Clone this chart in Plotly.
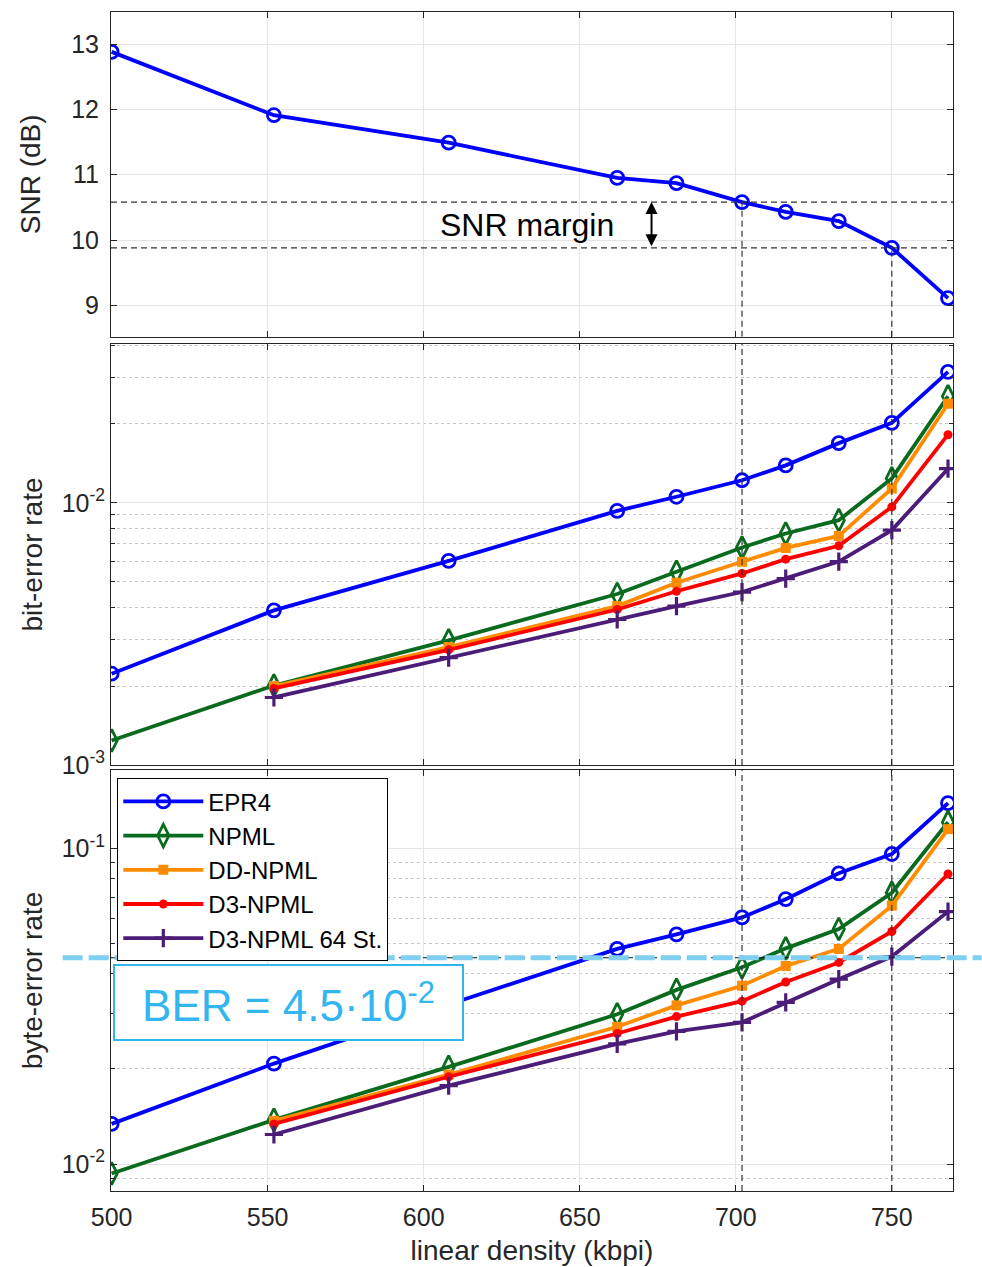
import plotly.graph_objects as go

# ---------------- data ----------------
density = [500, 552, 608, 662, 681, 702, 716, 733, 750, 768]          # kbpi
snr_db = [12.88, 11.91, 11.49, 10.95, 10.87, 10.58, 10.43, 10.29, 9.88, 9.11]

bit_epr4 = [2.23e-3, 3.89e-3, 6.01e-3, 9.32e-3, 1.055e-2, 1.22e-2, 1.39e-2, 1.69e-2, 2.02e-2, 3.16e-2]
bit_npml = [1.24e-3, 2.01e-3, 2.99e-3, 4.49e-3, 5.46e-3, 6.76e-3, 7.64e-3, 8.59e-3, 1.24e-2, 2.55e-2]
bit_dd = [2.00e-3, 2.82e-3, 4.04e-3, 4.96e-3, 5.96e-3, 6.73e-3, 7.48e-3, 1.135e-2, 2.39e-2]
bit_d3 = [1.96e-3, 2.75e-3, 3.92e-3, 4.60e-3, 5.38e-3, 6.10e-3, 6.86e-3, 9.65e-3, 1.82e-2]
bit_d3_64 = [1.81e-3, 2.57e-3, 3.59e-3, 4.04e-3, 4.57e-3, 5.14e-3, 5.97e-3, 7.87e-3, 1.35e-2]

byte_epr4 = [1.34e-2, 2.08e-2, 3.20e-2, 4.80e-2, 5.34e-2, 6.04e-2, 6.90e-2, 8.33e-2, 9.59e-2, 0.139]
byte_npml = [9.33e-3, 1.38e-2, 2.03e-2, 2.98e-2, 3.56e-2, 4.20e-2, 4.82e-2, 5.55e-2, 7.23e-2, 0.121]
byte_dd = [1.37e-2, 1.92e-2, 2.72e-2, 3.18e-2, 3.67e-2, 4.24e-2, 4.80e-2, 6.58e-2, 0.115]
byte_d3 = [1.34e-2, 1.89e-2, 2.59e-2, 2.93e-2, 3.28e-2, 3.77e-2, 4.35e-2, 5.45e-2, 8.29e-2]
byte_d3_64 = [1.24e-2, 1.77e-2, 2.40e-2, 2.63e-2, 2.81e-2, 3.25e-2, 3.85e-2, 4.54e-2, 6.30e-2]

ber_target = 4.5e-2
margin_idx = [5, 8]      # densities 702 and 750 kbpi

series_names = ["EPR4", "NPML", "DD-NPML", "D3-NPML", "D3-NPML 64 St."]
x_ticks = [500, 550, 600, 650, 700, 750]

# ---------------- styles ----------------
FONT = "Liberation Sans, Arial, Helvetica, sans-serif"
TXT = "#262626"
GRID = "#E4E4E4"
MINOR = "#C8C8C8"
styles = [
    dict(color="#0000FF", symbol="circle-open", size=13, mlw=2.8),
    dict(color="#0A6A1E", symbol="diamond-tall-open", size=16, mlw=2.8),
    dict(color="#FF8C00", symbol="square", size=10, mlw=0),
    dict(color="#FF0000", symbol="circle", size=9, mlw=0),
    dict(color="#4B1C78", symbol="cross-thin-open", size=13, mlw=3.2),
]

fig = go.Figure()


def add_series(xv, yv, k, xa, ya, show):
    st = styles[k]
    fig.add_trace(go.Scatter(
        x=xv, y=yv, mode="lines+markers", name=series_names[k],
        xaxis=xa, yaxis=ya, showlegend=show,
        line=dict(color=st["color"], width=3.8),
        marker=dict(symbol=st["symbol"], size=st["size"], color=st["color"],
                    line=dict(color=st["color"], width=st["mlw"])),
    ))


# top panel
add_series(density, snr_db, 0, "x", "y", False)
# middle and bottom panels
bits = [bit_epr4, bit_npml, bit_dd, bit_d3, bit_d3_64]
bytes_ = [byte_epr4, byte_npml, byte_dd, byte_d3, byte_d3_64]
for k in range(5):
    xv = density if k < 2 else density[1:]
    add_series(xv, bits[k], k, "x2", "y2", False)
for k in range(5):
    xv = density if k < 2 else density[1:]
    add_series(xv, bytes_[k], k, "x3", "y3", True)

# ---------------- axes ----------------
xr = [499.8, 769.6]
common_x = dict(range=xr, tickvals=x_ticks, showgrid=True, gridcolor=GRID, gridwidth=1,
                zeroline=False, showline=True, linecolor=TXT, linewidth=1, mirror="ticks",
                ticks="inside", ticklen=6, tickcolor=TXT, automargin=False,
                tickfont=dict(family=FONT, size=25, color=TXT))
common_y = dict(showgrid=True, gridcolor=GRID, gridwidth=1, zeroline=False, showline=True,
                linecolor=TXT, linewidth=1, mirror="ticks", ticks="inside", ticklen=6,
                tickcolor=TXT, tickfont=dict(family=FONT, size=25, color=TXT), automargin=False,
                title_font=dict(family=FONT, size=28, color=TXT))

d_top = [0.7246, 1.0]
d_mid = [0.3613, 0.7184]
d_bot = [0.0, 0.3571]

fig.update_layout(
    xaxis=dict(common_x, anchor="y", showticklabels=False),
    xaxis2=dict(common_x, anchor="y2", matches="x", showticklabels=False),
    xaxis3=dict(common_x, anchor="y3", matches="x", ticklabelstandoff=4,
                title=dict(text="linear density (kbpi)", font=dict(family=FONT, size=28, color=TXT),
                           standoff=10)),
    yaxis=dict(common_y, domain=d_top, anchor="x", range=[8.52, 13.49], tickvals=[9, 10, 11, 12, 13],
               ticklabelstandoff=6, title=dict(text="SNR (dB)", standoff=22)),
    yaxis2=dict(common_y, domain=d_mid, anchor="x2", type="log", range=[-3.0, -1.394],
                tickvals=[1e-3, 1e-2], ticktext=["10<sup>-3</sup>", "10<sup>-2</sup>"],
                title=dict(text="bit-error rate", standoff=10),
                minor=dict(tickmode="array",
                           tickvals=[2e-3, 3e-3, 4e-3, 5e-3, 6e-3, 7e-3, 8e-3, 9e-3, 2e-2, 3e-2, 4e-2],
                           showgrid=True, griddash="dot", gridcolor=MINOR, gridwidth=1,
                           ticks="inside", ticklen=4, tickcolor=TXT)),
    yaxis3=dict(common_y, domain=d_bot, anchor="x3", type="log", range=[-2.0855, -0.752],
                tickvals=[1e-2, 1e-1], ticktext=["10<sup>-2</sup>", "10<sup>-1</sup>"],
                title=dict(text="byte-error rate", standoff=10),
                minor=dict(tickmode="array",
                           tickvals=[9e-3, 2e-2, 3e-2, 4e-2, 5e-2, 6e-2, 7e-2, 8e-2, 9e-2],
                           showgrid=True, griddash="dot", gridcolor=MINOR, gridwidth=1,
                           ticks="inside", ticklen=4, tickcolor=TXT)),
)

# ---------------- reference lines ----------------
shapes = []
dash_style = dict(color="#333333", width=1.2, dash="6px,4px")
for i in margin_idx:
    xv = density[i]
    shapes.append(dict(type="line", xref="x", yref="y", x0=xv, x1=xv, y0=8.52, y1=snr_db[i],
                       line=dash_style, layer="above"))
    shapes.append(dict(type="line", xref="x2", yref="y2 domain", x0=xv, x1=xv, y0=0, y1=1,
                       line=dash_style, layer="above"))
    shapes.append(dict(type="line", xref="x3", yref="y3 domain", x0=xv, x1=xv, y0=0, y1=1,
                       line=dash_style, layer="above"))
    shapes.append(dict(type="line", xref="x domain", yref="y", x0=0, x1=1, y0=snr_db[i], y1=snr_db[i],
                       line=dash_style, layer="above"))
# BER threshold
shapes.append(dict(type="line", xref="x3 domain", yref="y3", x0=0, x1=1, y0=ber_target, y1=ber_target,
                   line=dict(color="#111111", width=1.2, dash="6px,6px"), layer="above"))
shapes.append(dict(type="line", xref="paper", yref="y3", x0=-0.0574, x1=1.034, y0=ber_target, y1=ber_target,
                   line=dict(color="#80CEF0", width=5, dash="20px,6px"), layer="above"))
fig.update_layout(shapes=shapes)

# ---------------- annotations ----------------
arrow_x = 673
fig.add_annotation(x=arrow_x, y=snr_db[margin_idx[0]], ax=arrow_x, ay=snr_db[margin_idx[1]],
                   xref="x", yref="y", axref="x", ayref="y", text="", showarrow=True,
                   arrowside="end+start", arrowhead=2, arrowsize=1.2, arrowwidth=2, arrowcolor="#000000",
                   standoff=0, startstandoff=0)
fig.add_annotation(x=633, y=(snr_db[margin_idx[0]] + snr_db[margin_idx[1]]) / 2, xref="x", yref="y",
                   text="SNR margin", showarrow=False,
                   font=dict(family=FONT, size=32, color="#000000"))
fig.add_annotation(x=0.0021, y=(1191 - 964.3) / 1179, xref="paper", yref="paper",
                   xanchor="left", yanchor="top", showarrow=False,
                   text="BER = 4.5·10<sup>-2</sup>", width=347, height=73,
                   bordercolor="#33B5EE", borderwidth=2, bgcolor="#FFFFFF", borderpad=0,
                   font=dict(family=FONT, size=44, color="#33B5EE"))

fig.update_layout(
    width=982, height=1267,
    margin=dict(l=111, r=29, t=12, b=76, autoexpand=False),
    paper_bgcolor="#FFFFFF", plot_bgcolor="#FFFFFF",
    font=dict(family=FONT, color=TXT),
    legend=dict(x=0.0075, y=(1191 - 778.3) / 1179, xanchor="left", yanchor="top",
                bgcolor="#FFFFFF", bordercolor="#000000", borderwidth=1,
                font=dict(family=FONT, size=24, color="#000000"),
                tracegroupgap=0, itemwidth=80),
)

fig.write_html("out.html")
